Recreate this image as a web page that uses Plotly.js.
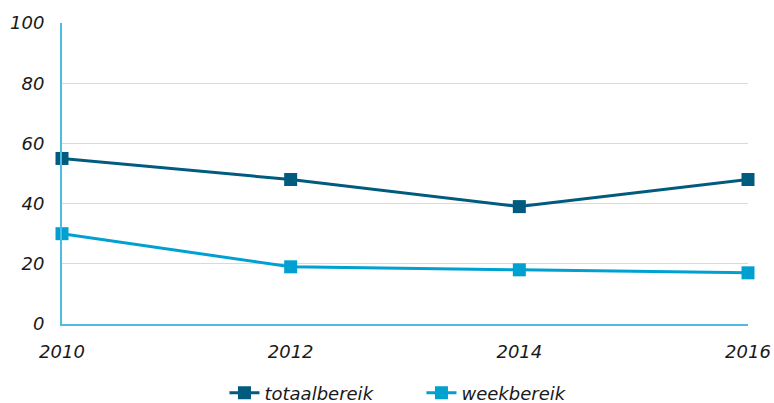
<!DOCTYPE html>
<html><head><meta charset="utf-8">
<script src="https://cdn.plot.ly/plotly-3.0.1.min.js"></script>
<style>html,body{margin:0;padding:0;background:#fff}#chart{width:774px;height:403px}</style>
</head><body><div id="chart"></div>
<script>
const years = [2010, 2012, 2014, 2016];
const totaalbereik = [55, 48, 39, 48];
const weekbereik = [30, 19, 18, 17];
const yTicks = [0, 20, 40, 60, 80, 100];

const font = {family: 'DejaVu Sans, Verdana, sans-serif', size: 18, color: '#1a1a1a', style: 'italic'};

const traces = [
  {x: years, y: totaalbereik, name: 'totaalbereik', type: 'scatter', mode: 'lines+markers',
   line: {color: '#005b7f', width: 3}, marker: {symbol: 'square', size: 13, color: '#005b7f'}, cliponaxis: false},
  {x: years, y: weekbereik, name: 'weekbereik', type: 'scatter', mode: 'lines+markers',
   line: {color: '#00a0d1', width: 3}, marker: {symbol: 'square', size: 13, color: '#00a0d1'}, cliponaxis: false}
];

const layout = {
  width: 774, height: 403,
  margin: {l: 62, r: 26, t: 23, b: 79, autoexpand: false},
  paper_bgcolor: '#fff', plot_bgcolor: '#fff',
  font: font,
  showlegend: true,
  legend: {orientation: 'h', x: 0.29, xref: 'container', xanchor: 'left', y: -0.229, yref: 'paper', yanchor: 'middle',
           entrywidth: 152, entrywidthmode: 'pixels',
           font: {family: font.family, size: 18, color: '#1a1a1a', style: 'italic'}},
  xaxis: {range: [2010, 2016], tickvals: years, ticktext: years.map(String),
          showgrid: false, zeroline: false, showline: true, linecolor: '#4cbde0', linewidth: 2,
          ticks: '', ticklabelstandoff: 10, fixedrange: true},
  yaxis: {range: [0, 100], tickvals: yTicks, ticktext: yTicks.map(String),
          showgrid: true, gridcolor: '#d9d9d9', gridwidth: 1, zeroline: false,
          showline: true, linecolor: '#4cbde0', linewidth: 2, ticks: '', ticklabelstandoff: 12, fixedrange: true}
};

Plotly.newPlot('chart', traces, layout, {displayModeBar: false, staticPlot: true});
</script></body></html>
